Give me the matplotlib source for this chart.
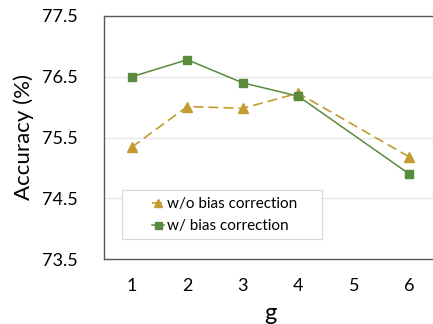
import matplotlib.pyplot as plt
from matplotlib.patches import Rectangle

g = [1, 2, 3, 4, 6]
acc_wo = [75.34, 76.01, 75.98, 76.23, 75.18]
acc_w = [76.50, 76.78, 76.40, 76.18, 74.90]
yticks = [73.5, 74.5, 75.5, 76.5, 77.5]
xticks = [1, 2, 3, 4, 5, 6]

plt.rcParams['font.family'] = ['Lato', 'DejaVu Sans']

fig = plt.figure(figsize=(4.33, 3.24), dpi=100)
ax = fig.add_axes([104 / 433, 1 - 259 / 324, 333 / 433, 243 / 324])

gold = '#C39B31'
green = '#5A8A3B'
ax.plot(g, acc_wo, color=gold, lw=1.2, ls=(0, (6, 3)), marker='^', ms=6.5,
        markeredgecolor=gold, label='w/o bias correction', zorder=3)
ax.plot(g, acc_w, color=green, lw=1.1, marker='s', ms=5.6,
        markeredgecolor=green, label='w/ bias correction', zorder=4)

ax.set_xlim(0.5, 6.5)
ax.set_ylim(73.5, 77.5)
ax.set_xticks(xticks)
ax.set_yticks(yticks)
ax.tick_params(axis='both', length=0, labelsize=13, colors='black')
ax.tick_params(axis='y', pad=19)
ax.tick_params(axis='x', pad=14)
for v in yticks[1:-1]:
    ax.axhline(v, color='#E6E6E6', lw=0.9, zorder=1)

for s in ['left', 'bottom', 'top']:
    ax.spines[s].set_color('#595959')
    ax.spines[s].set_linewidth(1.0)
ax.spines['right'].set_visible(False)

ax.set_ylabel('Accuracy (%)', fontsize=16, labelpad=6)
ax.set_xlabel('g', fontsize=17, labelpad=6)

ax.add_patch(Rectangle((0.054, 0.082), 0.6, 0.2, transform=ax.transAxes,
                       facecolor='white', edgecolor='#D9D9D9', lw=0.9, zorder=5))
ax.legend(loc='center left', bbox_to_anchor=(0.143, 0.18), frameon=False,
          fontsize=11, handlelength=0.8, handletextpad=0.2, labelspacing=0.55,
          borderaxespad=0, borderpad=0, markerscale=0.9).set_zorder(6)

fig.savefig('out.png', dpi=100)
